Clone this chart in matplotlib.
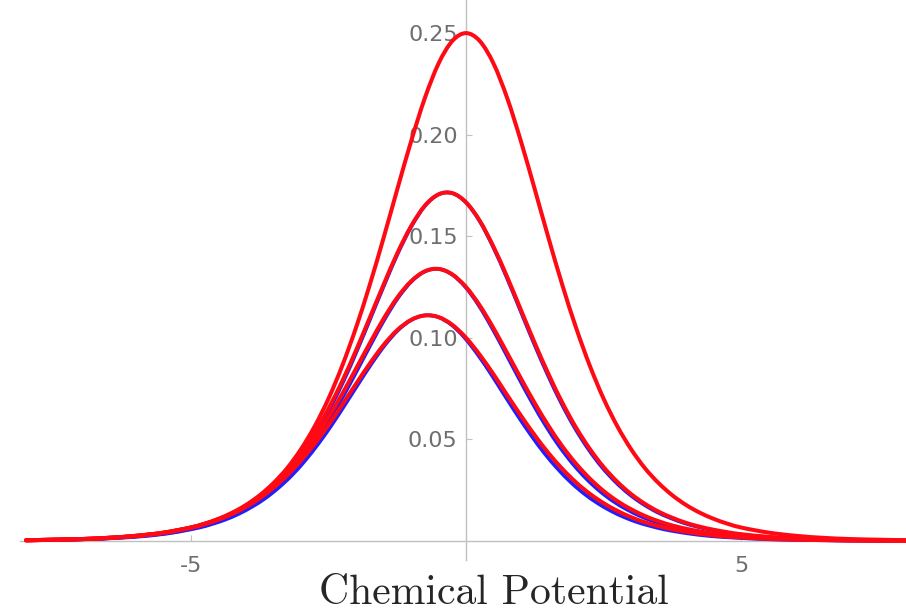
import numpy as np
import matplotlib.pyplot as plt
from matplotlib.path import Path
from matplotlib.patches import PathPatch

# chemical potential grid (denser around the peaks)
mu = [-8, -7.5, -7, -6.5, -6, -5.5, -5, -4.75, -4.5, -4.25, -4,
      -3.75, -3.5, -3.25, -3, -2.75, -2.5, -2.25, -2, -1.75, -1.5, -1.25,
      -1, -0.75, -0.5, -0.25, 0, 0.25, 0.5, 0.75, 1, 1.25, 1.5, 1.75,
      2, 2.25, 2.5, 2.75, 3, 3.25, 3.5, 3.75, 4, 4.25, 4.5, 4.75,
      5, 5.5, 6, 6.5, 7, 7.5, 8]

# curves, highest peak first
curve_a = [0.0003, 0.0006, 0.0009, 0.0015, 0.0025, 0.0041, 0.0066, 0.0085, 0.0109, 0.0139, 0.0177,
           0.0225, 0.0285, 0.0359, 0.0452, 0.0565, 0.0701, 0.0863, 0.1050, 0.1261,
           0.1491, 0.1731, 0.1966, 0.2179, 0.2350, 0.2461, 0.2500,
           0.2461, 0.2350, 0.2179, 0.1966, 0.1731, 0.1491, 0.1261, 0.1050, 0.0863,
           0.0701, 0.0565, 0.0452, 0.0359, 0.0285, 0.0225, 0.0177, 0.0139, 0.0109, 0.0085,
           0.0066, 0.0041, 0.0025, 0.0015, 0.0009, 0.0006, 0.0003]
curve_b = [0.0003, 0.0006, 0.0009, 0.0015, 0.0025, 0.0040, 0.0066, 0.0084, 0.0107, 0.0137, 0.0174,
           0.0219, 0.0276, 0.0346, 0.0431, 0.0533, 0.0652, 0.0787, 0.0938, 0.1099,
           0.1261, 0.1416, 0.1549, 0.1650, 0.1706, 0.1712, 0.1667,
           0.1576, 0.1448, 0.1298, 0.1136, 0.0974, 0.0821, 0.0681, 0.0558, 0.0453,
           0.0364, 0.0291, 0.0231, 0.0183, 0.0144, 0.0114, 0.0089, 0.0070, 0.0055, 0.0043,
           0.0033, 0.0020, 0.0012, 0.0008, 0.0005, 0.0003, 0.0002]
curve_c = [0.0003, 0.0006, 0.0009, 0.0015, 0.0025, 0.0040, 0.0066, 0.0084, 0.0106, 0.0135, 0.0170,
           0.0215, 0.0269, 0.0334, 0.0413, 0.0504, 0.0609, 0.0724, 0.0848, 0.0973,
           0.1093, 0.1198, 0.1278, 0.1327, 0.1339, 0.1312, 0.1250,
           0.1159, 0.1047, 0.0924, 0.0799, 0.0678, 0.0566, 0.0466, 0.0380, 0.0307,
           0.0246, 0.0196, 0.0156, 0.0123, 0.0097, 0.0076, 0.0060, 0.0047, 0.0036, 0.0029,
           0.0022, 0.0014, 0.0008, 0.0005, 0.0003, 0.0002, 0.0001]
curve_d = [0.0003, 0.0006, 0.0009, 0.0015, 0.0024, 0.0040, 0.0065, 0.0083, 0.0105, 0.0133, 0.0168,
           0.0210, 0.0262, 0.0323, 0.0396, 0.0479, 0.0571, 0.0671, 0.0773, 0.0873,
           0.0964, 0.1038, 0.1088, 0.1110, 0.1102, 0.1064, 0.1000,
           0.0916, 0.0820, 0.0717, 0.0616, 0.0520, 0.0432, 0.0355, 0.0288, 0.0232,
           0.0186, 0.0148, 0.0117, 0.0092, 0.0073, 0.0057, 0.0045, 0.0035, 0.0027, 0.0021,
           0.0017, 0.0010, 0.0006, 0.0004, 0.0002, 0.0001, 0.0001]

# the blue companions are slightly narrower than the red ones
blue_narrow = [1.0, 1.012, 1.025, 1.035]

y_ticks = [0.05, 0.10, 0.15, 0.20, 0.25]
x_ticks = [-5, 5]

AXIS_GREY = "#c0c0c0"
RED = "#ff0a14"
BLUE = "#2020ff"


def smooth_path(x, y):
    """Cubic Hermite bezier through the points, so the curve has no corners."""
    n = len(x)
    slope = np.empty(n)
    slope[1:-1] = (y[2:] - y[:-2]) / (x[2:] - x[:-2])
    slope[0] = (y[1] - y[0]) / (x[1] - x[0])
    slope[-1] = (y[-1] - y[-2]) / (x[-1] - x[-2])
    verts = [(x[0], y[0])]
    codes = [Path.MOVETO]
    for i in range(n - 1):
        h = x[i + 1] - x[i]
        verts += [(x[i] + h / 3, y[i] + slope[i] * h / 3),
                  (x[i + 1] - h / 3, y[i + 1] - slope[i + 1] * h / 3),
                  (x[i + 1], y[i + 1])]
        codes += [Path.CURVE4] * 3
    return Path(verts, codes)


fig = plt.figure(figsize=(9.06, 6.14), dpi=100)
ax = fig.add_axes([20 / 906, 54 / 614, 886 / 906, 560 / 614])

x = np.array(mu, dtype=float)
for ys, k in zip([curve_a, curve_b, curve_c, curve_d], blue_narrow):
    y = np.array(ys)
    if k != 1.0:
        x0 = x[np.argmax(y)]
        ax.add_patch(PathPatch(smooth_path(x0 + (x - x0) / k, y), fill=False,
                               edgecolor=BLUE, lw=2.6, zorder=3, capstyle="round"))
    ax.add_patch(PathPatch(smooth_path(x, y), fill=False, edgecolor=RED,
                           lw=2.9, zorder=4, capstyle="round", joinstyle="round"))

ax.set_xlim(-8.11, 8.0)
ax.set_ylim(-0.0094, 0.2663)

# Mathematica-style crossing axes
for side in ["top", "right"]:
    ax.spines[side].set_visible(False)
for side in ["left", "bottom"]:
    ax.spines[side].set_position(("data", 0))
    ax.spines[side].set_color(AXIS_GREY)
    ax.spines[side].set_linewidth(1.0)

ax.set_xticks(x_ticks)
ax.set_xticklabels([str(t) for t in x_ticks])
ax.set_yticks(y_ticks)
ax.set_yticklabels([f"{t:.2f}" for t in y_ticks])
ax.tick_params(axis="both", direction="in", length=4, width=0.8,
               color=AXIS_GREY, labelcolor="#6e6e6e", labelsize=16)
ax.tick_params(axis="y", pad=6)
ax.tick_params(axis="x", pad=11)

fig.text(494 / 906, 1 - 604 / 614, "Chemical Potential", fontfamily="cmr10",
         fontsize=30, ha="center", va="baseline", color="#262626")

fig.savefig("out.png", dpi=100)
